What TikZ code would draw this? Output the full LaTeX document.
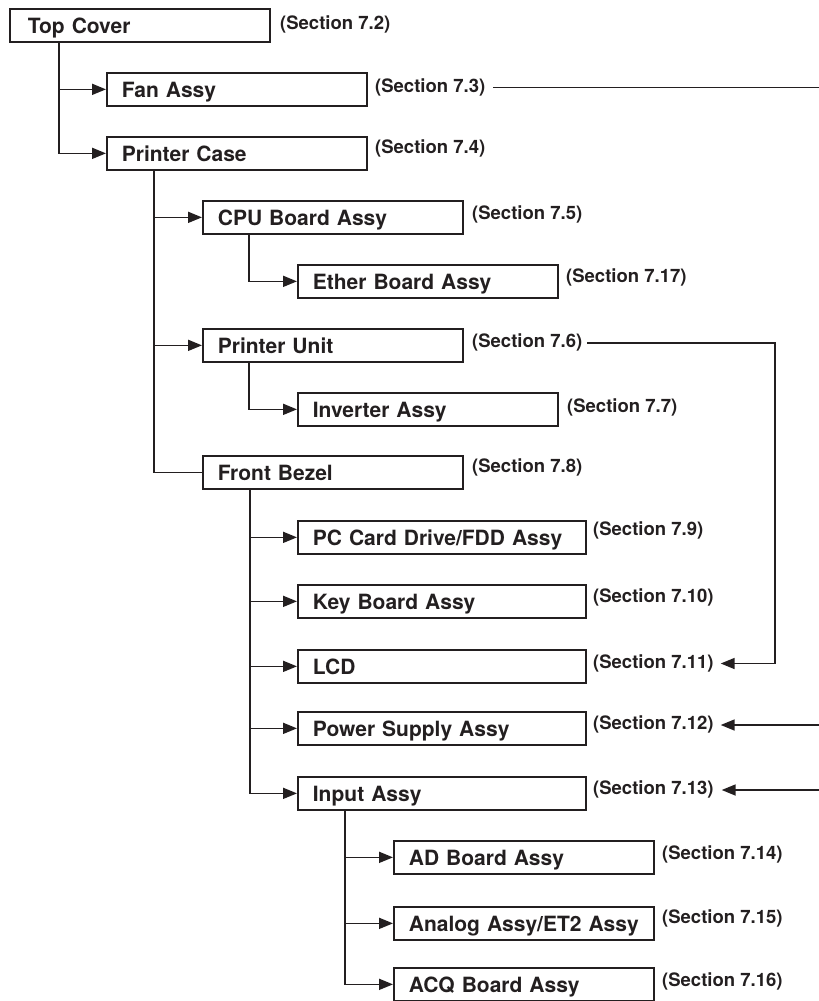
\documentclass[tikz,border=0pt]{standalone}
\usepackage{fontspec}
\setmainfont{TeX Gyre Heros}
\usetikzlibrary{arrows.meta}
\definecolor{ink}{RGB}{35,31,32}
\begin{document}
\begin{tikzpicture}[x=1pt,y=-1pt,
  box/.style={draw=ink, line width=1.7pt, rectangle, anchor=north west,
    minimum width=260pt, minimum height=33pt, inner xsep=15pt, inner ysep=0pt,
    text width=230pt, align=left, text height=17pt, text depth=0pt,
    font=\fontsize{21}{25}\selectfont\bfseries, text=ink},
  wide/.style={box, minimum width=288pt, text width=258pt},
  sec/.style={anchor=west, inner sep=0pt, text height=13.5pt, text depth=3.9pt,
    font=\fontsize{18.5}{22}\selectfont\bfseries, text=ink},
  link/.style={draw=ink, line width=1.7pt},
  arr/.style={link, -{Triangle[length=14pt,width=11pt]}}]
\useasboundingbox (0,0) rectangle (819,1001);

% boxes
\node[box] (top) at (9,8) {\hspace*{3pt}Top Cover};
\node[box] (fan) at (106,72) {Fan Assy};
\node[box] (pcase) at (106,136) {Printer Case};
\node[box] (cpu) at (202,200) {CPU Board Assy};
\node[box] (ether) at (297,264) {Ether Board Assy};
\node[box] (punit) at (202,328) {Printer Unit};
\node[box] (inv) at (297,392) {Inverter Assy};
\node[box] (fbezel) at (202,455) {Front Bezel};
\node[wide] (pccard) at (297,520) {PC Card Drive/FDD Assy};
\node[wide] (key) at (297,584) {Key Board Assy};
\node[wide] (lcd) at (297,649) {LCD};
\node[wide] (power) at (297,711) {Power Supply Assy};
\node[wide] (input) at (297,776) {Input Assy};
\node[box] (ad) at (393,840) {AD Board Assy};
\node[box] (analog) at (393,906) {Analog Assy/ET2 Assy};
\node[box] (acq) at (393,967) {ACQ Board Assy};

% section labels
\node[sec] (s72) at (280,25) {(Section 7.2)};
\node[sec] (s73) at (375,87.5) {(Section 7.3)};
\node[sec] (s74) at (375,149) {(Section 7.4)};
\node[sec] (s75) at (472,215) {(Section 7.5)};
\node[sec] (s717) at (566,278) {(Section 7.17)};
\node[sec] (s76) at (472,343) {(Section 7.6)};
\node[sec] (s77) at (567,407.5) {(Section 7.7)};
\node[sec] (s78) at (472,468) {(Section 7.8)};
\node[sec] (s79) at (593,531) {(Section 7.9)};
\node[sec] (s710) at (593,597.5) {(Section 7.10)};
\node[sec] (s711) at (593,663.5) {(Section 7.11)};
\node[sec] (s712) at (593,725) {(Section 7.12)};
\node[sec] (s713) at (593,790) {(Section 7.13)};
\node[sec] (s714) at (662,855) {(Section 7.14)};
\node[sec] (s715) at (662,918.5) {(Section 7.15)};
\node[sec] (s716) at (662,981.5) {(Section 7.16)};

% tree connectors
\draw[arr] ([xshift=50pt]top.south west) |- (fan.west);
\draw[arr] ([xshift=50pt]top.south west) |- (pcase.west);
\draw[arr] ([xshift=48pt]pcase.south west) |- (cpu.west);
\draw[arr] ([xshift=48pt]pcase.south west) |- (punit.west);
\draw[link] ([xshift=48pt]pcase.south west) |- (fbezel.west);
\draw[arr] ([xshift=47pt]cpu.south west) |- (ether.west);
\draw[arr] ([xshift=47pt]punit.south west) |- (inv.west);
\draw[arr] ([xshift=48pt]fbezel.south west) |- (pccard.west);
\draw[arr] ([xshift=48pt]fbezel.south west) |- (key.west);
\draw[arr] ([xshift=48pt]fbezel.south west) |- (lcd.west);
\draw[arr] ([xshift=48pt]fbezel.south west) |- (power.west);
\draw[arr] ([xshift=48pt]fbezel.south west) |- (input.west);
\draw[arr] ([xshift=48pt]input.south west) |- (ad.west);
\draw[arr] ([xshift=48pt]input.south west) |- (analog.west);
\draw[arr] ([xshift=48pt]input.south west) |- (acq.west);

% cross references
\coordinate (edgeR) at (819,0);
\coordinate (rail) at (775,0);
\draw[link] ([xshift=8pt]s73.east) -- (s73.east -| edgeR);
\draw[arr] ([xshift=5pt]s76.east) -| (rail |- s711.east) -- ([xshift=7pt]s711.east);
\draw[arr] (s712.east -| edgeR) -- ([xshift=7pt]s712.east);
\draw[arr] (s713.east -| edgeR) -- ([xshift=8pt]s713.east);
\end{tikzpicture}
\end{document}
